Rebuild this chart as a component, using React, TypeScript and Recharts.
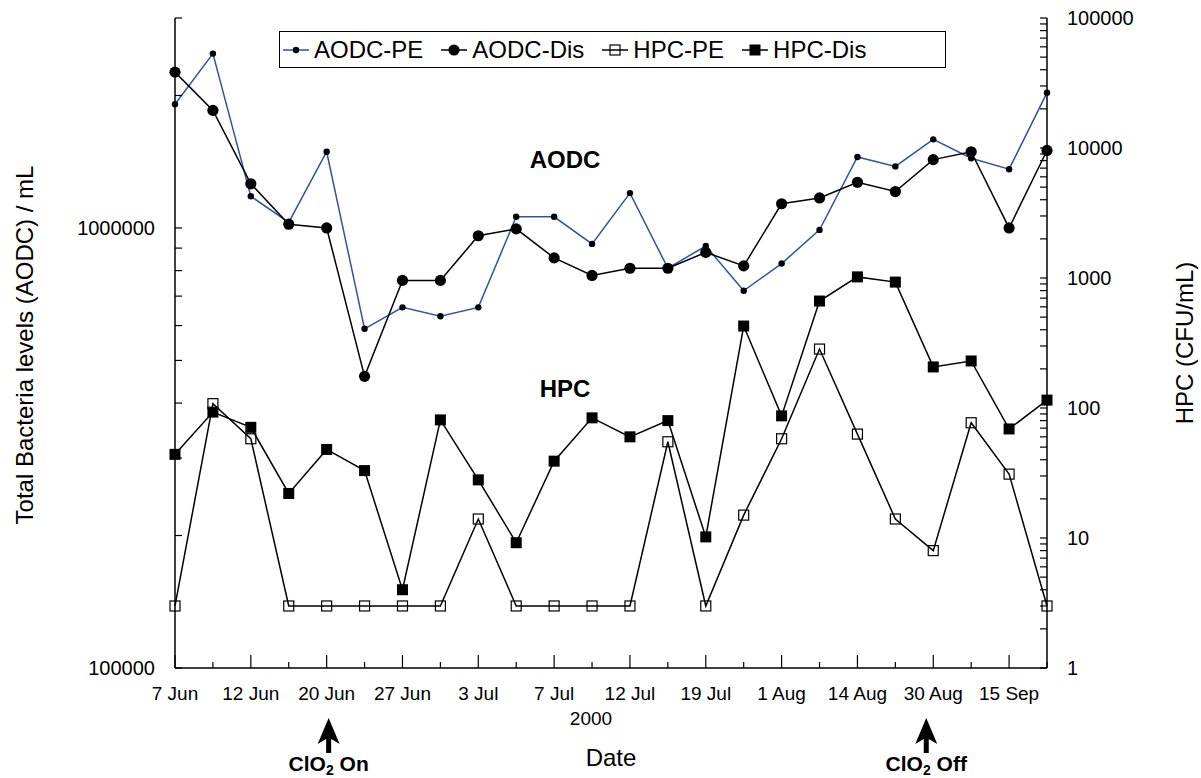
import React from "react";
import { LineChart, Line, XAxis, YAxis, Legend } from "recharts";

const FONT = "'Liberation Sans', Arial, sans-serif";
const BLUE = "#3152a3";

// sampling dates (only every second one is labelled on the axis)
const DATE_LABELS = [
  "7 Jun", "", "12 Jun", "", "20 Jun", "", "27 Jun", "", "3 Jul", "", "7 Jul", "",
  "12 Jul", "", "19 Jul", "", "1 Aug", "", "14 Aug", "", "30 Aug", "", "15 Sep", "",
];

// total bacteria, cells / mL (left axis)
const AODC_PE = [
  1910000, 2490000, 1180000, 1030000, 1490000, 590000, 660000, 630000, 660000, 1060000, 1060000, 920000,
  1200000, 810000, 910000, 720000, 830000, 990000, 1450000, 1380000, 1590000, 1440000, 1360000, 2030000,
];
const AODC_DIS = [
  2260000, 1850000, 1260000, 1020000, 1000000, 460000, 760000, 760000, 960000, 995000, 855000, 780000,
  810000, 810000, 880000, 820000, 1135000, 1170000, 1270000, 1210000, 1430000, 1490000, 1000000, 1500000,
];

// heterotrophic plate counts, CFU / mL (right axis)
const HPC_PE = [3, 108, 58, 3, 3, 3, 3, 3, 14, 3, 3, 3, 3, 55, 3, 15, 58, 284, 63, 14, 8, 77, 31, 3];
const HPC_DIS = [44, 93, 71, 22, 48, 33, 4, 81, 28, 9.2, 39, 84, 60, 80, 10.2, 427, 87, 665, 1020, 930, 207, 230, 69, 115];

const AODC_TICKS = [
  100000, 200000, 300000, 400000, 500000, 600000, 700000, 800000, 900000, 1000000, 2000000, 3000000,
];
const HPC_TICKS = [
  1, 2, 3, 4, 5, 6, 7, 8, 9,
  10, 20, 30, 40, 50, 60, 70, 80, 90,
  100, 200, 300, 400, 500, 600, 700, 800, 900,
  1000, 2000, 3000, 4000, 5000, 6000, 7000, 8000, 9000,
  10000, 20000, 30000, 40000, 50000, 60000, 70000, 80000, 90000,
  100000,
];

const CLO2_NOTES = [
  { index: 4, text: "On", dx: 2 },
  { index: 20, text: "Off", dx: -7 },
];

const data = DATE_LABELS.map((label, i) => ({
  i,
  label,
  aodcPe: AODC_PE[i],
  aodcDis: AODC_DIS[i],
  hpcPe: HPC_PE[i],
  hpcDis: HPC_DIS[i],
}));

const isDecade = (v: number) => Math.abs(Math.log10(v) - Math.round(Math.log10(v))) < 1e-6;

const smallDot = (p: any) => <circle key={`s${p.index}`} cx={p.cx} cy={p.cy} r={3.2} fill="#000" />;
const bigDot = (p: any) => <circle key={`b${p.index}`} cx={p.cx} cy={p.cy} r={5.6} fill="#000" />;
const openSquare = (p: any) => (
  <rect key={`o${p.index}`} x={p.cx - 5} y={p.cy - 5} width={10} height={10} fill="none" stroke="#000" strokeWidth={1.2} />
);
const filledSquare = (p: any) => (
  <rect key={`f${p.index}`} x={p.cx - 5.5} y={p.cy - 5.5} width={11} height={11} fill="#000" />
);

const SERIES = [
  { key: "aodcPe", name: "AODC-PE", axis: "left", color: BLUE, dot: smallDot },
  { key: "aodcDis", name: "AODC-Dis", axis: "left", color: "#000", dot: bigDot },
  { key: "hpcPe", name: "HPC-PE", axis: "right", color: "#000", dot: openSquare },
  { key: "hpcDis", name: "HPC-Dis", axis: "right", color: "#000", dot: filledSquare },
];

function LeftTick(props: any) {
  const { x, y, payload } = props;
  const axisX = x + 20;
  const v = payload.value;
  return (
    <g>
      <line x1={axisX} x2={axisX + 7} y1={y} y2={y} stroke="#000" strokeWidth={1.2} />
      {isDecade(v) && (
        <text x={x} y={y} dy="0.35em" textAnchor="end" fontSize={20} fill="#000">
          {v}
        </text>
      )}
    </g>
  );
}

function RightTick(props: any) {
  const { x, y, payload } = props;
  const axisX = x - 20;
  const v = payload.value;
  return (
    <g>
      <line x1={axisX - 7} x2={axisX} y1={y} y2={y} stroke="#000" strokeWidth={1.2} />
      {isDecade(v) && (
        <text x={x} y={y} dy="0.35em" textAnchor="start" fontSize={20} fill="#000">
          {v}
        </text>
      )}
    </g>
  );
}

function DateTick(props: any) {
  const { x, y, payload } = props;
  const i = payload.value;
  const label = DATE_LABELS[i];
  const note = CLO2_NOTES.find((n) => n.index === i);
  const len = label ? 13 : 6;
  return (
    <g>
      <line x1={x} x2={x} y1={y} y2={y - len} stroke="#000" strokeWidth={1.2} />
      {label && (
        <text x={x} y={y + 32} textAnchor="middle" fontSize={19} fill="#000">
          {label}
        </text>
      )}
      {note && (
        <g>
          <path
            d={`M${x + note.dx} ${y + 50} L${x + note.dx + 11} ${y + 76} L${x + note.dx + 2.5} ${y + 71} L${x + note.dx + 2.5} ${y + 85} L${x + note.dx - 2.5} ${y + 85} L${x + note.dx - 2.5} ${y + 71} L${x + note.dx - 11} ${y + 76} Z`}
            fill="#000"
          />
          <text x={x + note.dx} y={y + 103} textAnchor="middle" fontSize={21} fontWeight="bold" fill="#000">
            ClO
            <tspan fontSize={14} dy={4}>2</tspan>
            <tspan dy={-4}>{" " + note.text}</tspan>
          </text>
        </g>
      )}
    </g>
  );
}

function LegendBox() {
  return (
    <div
      style={{
        display: "flex",
        alignItems: "center",
        boxSizing: "border-box",
        height: 37,
        border: "1.5px solid #000",
        background: "#fff",
        paddingLeft: 3,
        fontSize: 24,
        fontFamily: FONT,
        color: "#000",
        whiteSpace: "nowrap",
      }}
    >
      {SERIES.map((s) => (
        <div key={s.key} style={{ display: "flex", alignItems: "center", marginRight: 18 }}>
          <svg width={26} height={20}>
            <line x1={0} x2={26} y1={10} y2={10} stroke={s.color} strokeWidth={1.5} />
            {s.dot({ cx: 13, cy: 10, index: 0 })}
          </svg>
          <span style={{ marginLeft: 5 }}>{s.name}</span>
        </div>
      ))}
    </div>
  );
}

export default function App() {
  return (
    <div
      style={{
        position: "absolute",
        left: 0,
        top: 0,
        width: 1201,
        height: 778,
        background: "#fff",
        fontFamily: FONT,
      }}
    >
      <LineChart width={1201} height={778} data={data} margin={{ top: 18, right: 0, bottom: 0, left: 0 }}>
        <XAxis
          dataKey="i"
          type="number"
          domain={[0, 23]}
          ticks={DATE_LABELS.map((_, i) => i)}
          interval={0}
          height={110}
          tickSize={0}
          tickMargin={0}
          tickLine={false}
          axisLine={{ stroke: "#000", strokeWidth: 1.5 }}
          tick={(p: any) => <DateTick {...p} />}
        />
        <XAxis
          xAxisId="top"
          orientation="top"
          dataKey="i"
          type="number"
          domain={[0, 23]}
          height={0}
          tick={false}
          tickLine={false}
          axisLine={{ stroke: "#000", strokeWidth: 1.5 }}
        />
        <YAxis
          yAxisId="left"
          scale="log"
          domain={[100000, 3000000]}
          allowDataOverflow
          ticks={AODC_TICKS}
          interval={0}
          width={175}
          tickSize={0}
          tickMargin={20}
          tickLine={false}
          axisLine={{ stroke: "#000", strokeWidth: 1.5 }}
          tick={(p: any) => <LeftTick {...p} />}
        />
        <YAxis
          yAxisId="right"
          orientation="right"
          scale="log"
          domain={[1, 100000]}
          allowDataOverflow
          ticks={HPC_TICKS}
          interval={0}
          width={154}
          tickSize={0}
          tickMargin={20}
          tickLine={false}
          axisLine={{ stroke: "#000", strokeWidth: 1.5 }}
          tick={(p: any) => <RightTick {...p} />}
        />
        <Legend
          layout="horizontal"
          verticalAlign="middle"
          align="center"
          content={() => <LegendBox />}
          wrapperStyle={{ left: 279, top: 31, width: 667, height: 37 }}
        />
        {SERIES.map((s) => (
          <Line
            key={s.key}
            yAxisId={s.axis}
            dataKey={s.key}
            name={s.name}
            type="linear"
            stroke={s.color}
            strokeWidth={1.5}
            dot={s.dot}
            activeDot={false}
            isAnimationActive={false}
          />
        ))}
      </LineChart>
      <svg
        width={1201}
        height={778}
        style={{ position: "absolute", left: 0, top: 0, pointerEvents: "none" }}
      >
        <text x={565} y={168} textAnchor="middle" fontSize={24} fontWeight="bold" fill="#000">
          AODC
        </text>
        <text x={565} y={397} textAnchor="middle" fontSize={24} fontWeight="bold" fill="#000">
          HPC
        </text>
        <text x={591} y={725} textAnchor="middle" fontSize={19} fill="#000">
          2000
        </text>
        <text x={611} y={766} textAnchor="middle" fontSize={24} fill="#000">
          Date
        </text>
        <text x={25} y={345} dy="0.35em" textAnchor="middle" fontSize={24} fill="#000" transform="rotate(-90 25 345)">
          Total Bacteria levels (AODC) / mL
        </text>
        <text x={1185} y={343} dy="0.35em" textAnchor="middle" fontSize={24} fill="#000" transform="rotate(-90 1185 343)">
          HPC (CFU/mL)
        </text>
      </svg>
    </div>
  );
}
